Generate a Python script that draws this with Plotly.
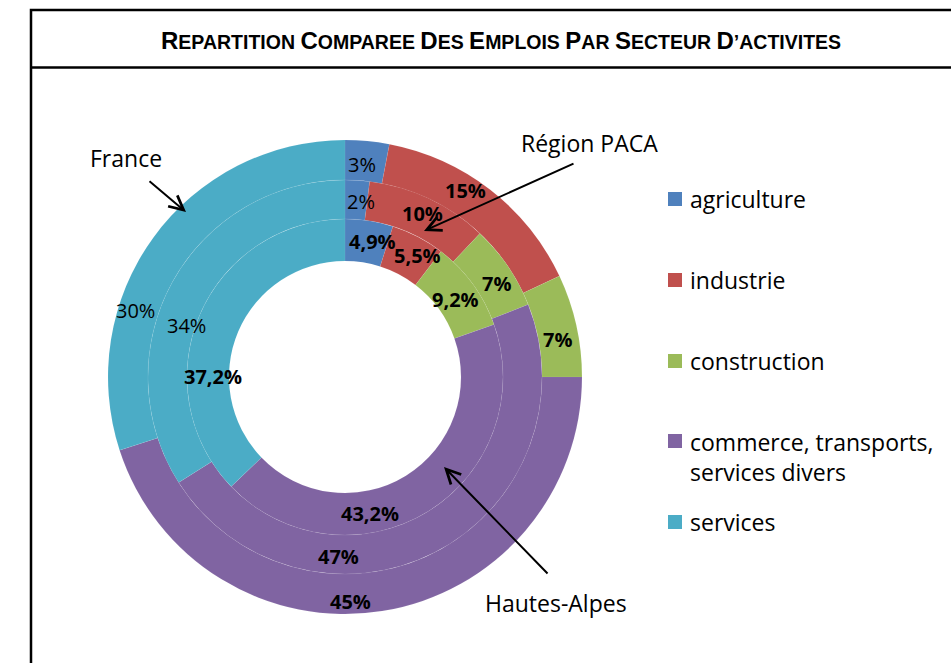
import plotly.graph_objects as go

# ---- data -------------------------------------------------------------
sectors = ["agriculture", "industrie", "construction",
           "commerce, transports, services divers", "services"]
legend_labels = ["agriculture", "industrie", "construction",
                 "commerce, transports,<br>services divers", "services"]
france = [3, 15, 7, 45, 30]
paca = [2, 10, 7, 47, 34]
hautes_alpes = [4.9, 5.5, 9.2, 43.2, 37.2]
ring_names = ["France", "Région PACA", "Hautes-Alpes"]

# ---- styling ----------------------------------------------------------
colors = ["#4F81BD", "#C0504D", "#9BBB59", "#8064A2", "#4BACC6"]
W, H = 951, 663
CX, CY = 345, 377                      # pixel centre of the doughnut
rings = [  # (values, inner radius px, outer radius px)
    (france, 197, 237),
    (paca, 158, 197),
    (hautes_alpes, 116, 158),
]
FONT = "Open Sans, Liberation Sans, sans-serif"

# label anchors (pixel), one row per ring, and bold flags
label_pos = [
    [(362, 164), (465, 190), (557, 339), (350, 601), (135, 310)],
    [(361, 201), (422, 214), (496, 283), (338, 556), (186, 325)],
    [(372, 241), (417, 256), (455, 300), (370, 513), (213, 376)],
]
label_bold = [
    [False, True, True, True, False],
    [False, True, True, True, False],
    [True, True, True, True, True],
]


def fx(x):
    return x / W


def fy(y):
    return 1 - y / H


def fmt(v):
    return ("%g" % v).replace(".", ",") + "%"


fig = go.Figure()
for (vals, r_in, r_out), name in zip(rings, ring_names):
    fig.add_trace(go.Pie(
        labels=sectors, values=vals, name=name,
        sort=False, direction="clockwise", rotation=0,
        hole=r_in / r_out,
        domain=dict(x=[fx(CX - r_out), fx(CX + r_out)],
                    y=[fy(CY + r_out), fy(CY - r_out)]),
        marker=dict(colors=colors,
                    line=dict(color="rgba(255,255,255,0.12)", width=0.5)),
        textinfo="none", hoverinfo="label+value+name",
        showlegend=False,
    ))

annotations = []
# value labels
for (vals, _, _), pos_row, bold_row in zip(rings, label_pos, label_bold):
    for v, (x, y), b in zip(vals, pos_row, bold_row):
        t = fmt(v)
        annotations.append(dict(
            x=fx(x), y=fy(y), xref="paper", yref="paper",
            text="<b>%s</b>" % t if b else t, showarrow=False,
            font=dict(family=FONT, size=20, color="black"),
            xanchor="center", yanchor="middle"))

# series name callouts with arrows: (text pos, arrow tail, arrow head)
callouts = [
    ((126, 158), (148, 180), (186, 212)),
    ((589, 143), (575, 163), (424, 231)),
    ((556, 603), (549, 575), (444, 467)),
]
for name, (tpos, tail, head) in zip(ring_names, callouts):
    annotations.append(dict(
        x=fx(tpos[0]), y=fy(tpos[1]), xref="paper", yref="paper",
        text=name, showarrow=False,
        font=dict(family=FONT, size=23, color="black"),
        xanchor="center", yanchor="middle"))
    annotations.append(dict(
        x=fx(head[0]), y=fy(head[1]), xref="paper", yref="paper",
        ax=tail[0] - head[0], ay=tail[1] - head[1],
        text="", showarrow=True, arrowhead=5, arrowsize=1.4,
        arrowwidth=2, arrowcolor="black"))

# legend
shapes = []
legend_rows = [199, 280, 361, 441, 522]
for lab, col, yrow in zip(legend_labels, colors, legend_rows):
    shapes.append(dict(type="rect", xref="paper", yref="paper",
                       x0=fx(668), x1=fx(682), y0=fy(yrow + 7), y1=fy(yrow - 7),
                       fillcolor=col, line=dict(width=0)))
    multi = "<br>" in lab
    annotations.append(dict(
        x=fx(688), y=fy(yrow - 17 if multi else yrow), xref="paper", yref="paper",
        text=lab, showarrow=False, align="left",
        font=dict(family=FONT, size=23, color="black"),
        xanchor="left", yanchor="top" if multi else "middle"))

# title in small capitals
words = ["REPARTITION", "COMPAREE", "DES", "EMPLOIS", "PAR", "SECTEUR", "D’ACTIVITES"]
title = " ".join('<span style="font-size:24px">%s</span>%s' % (w[0], w[1:]) for w in words)
annotations.append(dict(
    x=fx(501), y=fy(40), xref="paper", yref="paper", text="<b>%s</b>" % title,
    showarrow=False, xanchor="center", yanchor="middle",
    font=dict(family="Liberation Sans Narrow, Arial Narrow, Liberation Sans", size=19.5,
              color="black")))

# frame and title separator
shapes.append(dict(type="rect", xref="paper", yref="paper",
                   x0=fx(31), x1=fx(975), y0=fy(700), y1=fy(10),
                   line=dict(color="black", width=2.5)))
shapes.append(dict(type="line", xref="paper", yref="paper",
                   x0=fx(31), x1=fx(975), y0=fy(67.5), y1=fy(67.5),
                   line=dict(color="black", width=2.5)))

fig.update_layout(
    width=W, height=H, margin=dict(l=0, r=0, t=0, b=0),
    paper_bgcolor="white", plot_bgcolor="white",
    annotations=annotations, shapes=shapes, showlegend=False,
)
fig.write_html("out.html")
